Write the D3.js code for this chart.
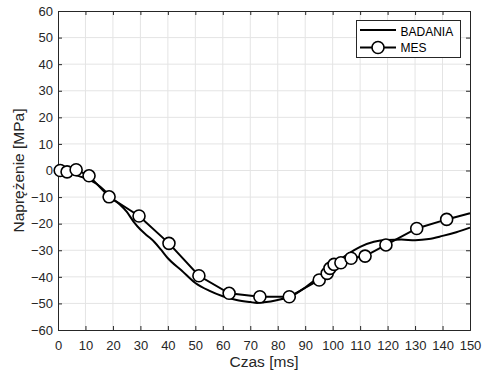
<!DOCTYPE html>
<html><head><meta charset="utf-8">
<script src="https://cdn.jsdelivr.net/npm/d3@7"></script>
<style>body{margin:0;background:#fff}svg{display:block}</style>
</head><body>
<svg id="c" width="487" height="373"></svg>
<script>
const xTicks = [0,10,20,30,40,50,60,70,80,90,100,110,120,130,140,150];
const yTicks = [-60,-50,-40,-30,-20,-10,0,10,20,30,40,50,60];
const badaniaT = [0.8,3,6,9,11,14,17,20,22.5,25,27.5,30,32.5,35,37.5,40,45,50,55,60,65,70,72.5,75,80,85,90,95,100,105,110,115,120,125,130,135,140,145,150];
const badaniaV = [0,-0.6,-1.6,-2.6,-3.3,-5,-7.6,-10.8,-12.8,-15.5,-19.2,-22.2,-24.5,-26.8,-29.8,-33,-37.6,-42.3,-45.2,-47.3,-48.7,-49.5,-49.8,-49.6,-48.7,-47.2,-44,-40,-35.6,-31.8,-28.7,-26.8,-26.1,-26,-26.2,-25.8,-24.6,-23.2,-21.5];
const mesT = [0.8,3.3,6.6,11.3,18.6,29.5,40.4,51.3,62.3,73.5,84.2,95.1,98.0,99.0,100.5,103.0,106.7,111.8,119.4,130.6,141.5,150];
const mesV = [0,-0.5,0.3,-2,-9.9,-17.1,-27.4,-39.6,-46.2,-47.5,-47.5,-41.2,-38.7,-36.8,-35.3,-34.7,-33.0,-32.2,-28.0,-21.8,-18.4,-16.1];
const mesMarkerCount = 21;

const svg = d3.select("#c");
const L=58, R=470, T=11, B=330;
const x = d3.scaleLinear().domain([0,150]).range([L,R]);
const y = d3.scaleLinear().domain([-60,60]).range([B,T]);
const font = "'Liberation Sans', Arial, sans-serif";

// grid
svg.append("g").selectAll("line").data(xTicks.slice(1,-1)).join("line")
  .attr("x1",d=>x(d)).attr("x2",d=>x(d)).attr("y1",T).attr("y2",B)
  .attr("stroke","#e4e4e4").attr("stroke-width",1);
svg.append("g").selectAll("line").data(yTicks.slice(1,-1)).join("line")
  .attr("y1",d=>y(d)).attr("y2",d=>y(d)).attr("x1",L).attr("x2",R)
  .attr("stroke","#e4e4e4").attr("stroke-width",1);

// axes
const ax = svg.append("g").attr("transform",`translate(0,${B})`)
  .call(d3.axisBottom(x).tickValues(xTicks).tickSize(-4).tickPadding(10.5).tickFormat(d3.format("d")));
const axT = svg.append("g").attr("transform",`translate(0,${T})`)
  .call(d3.axisTop(x).tickValues(xTicks).tickSize(-4).tickFormat(""));
const ay = svg.append("g").attr("transform",`translate(${L},0)`)
  .call(d3.axisLeft(y).tickValues(yTicks).tickSize(-4).tickPadding(5).tickFormat(d3.format("d")));
const ayR = svg.append("g").attr("transform",`translate(${R},0)`)
  .call(d3.axisRight(y).tickValues(yTicks).tickSize(-4).tickFormat(""));
[ax,axT,ay,ayR].forEach(g=>{
  g.select(".domain").attr("stroke","#262626").attr("stroke-width",1);
  g.selectAll(".tick line").attr("stroke","#262626");
  g.selectAll("text").attr("fill","#262626").style("font-family",font).style("font-size","13px");
});

// lines
const line = d3.line().x(d=>x(d[0])).y(d=>y(d[1])).curve(d3.curveMonotoneX);
const bad = badaniaT.map((t,i)=>[t,badaniaV[i]]);
const mes = mesT.map((t,i)=>[t,mesV[i]]);
svg.append("path").attr("d",line(bad)).attr("fill","none").attr("stroke","#000").attr("stroke-width",2);
svg.append("path").attr("d",d3.line().x(d=>x(d[0])).y(d=>y(d[1]))(mes)).attr("fill","none").attr("stroke","#000").attr("stroke-width",2);
svg.append("g").selectAll("circle").data(mes.slice(0,mesMarkerCount)).join("circle")
  .attr("cx",d=>x(d[0])).attr("cy",d=>y(d[1])).attr("r",6)
  .attr("fill","#fff").attr("stroke","#000").attr("stroke-width",1.6);

// labels
svg.append("text").attr("x",(L+R)/2).attr("y",367).attr("text-anchor","middle")
  .style("font-family",font).style("font-size","15.5px").attr("fill","#262626").text("Czas [ms]");
svg.append("text").attr("transform",`translate(24,${(T+B)/2}) rotate(-90)`).attr("text-anchor","middle")
  .style("font-family",font).style("font-size","15.5px").attr("fill","#262626").text("Naprężenie [MPa]");

// legend
const lg = svg.append("g");
lg.append("rect").attr("x",356.5).attr("y",20.5).attr("width",104).attr("height",37)
  .attr("fill","#fff").attr("stroke","#262626").attr("stroke-width",1);
lg.append("line").attr("x1",360).attr("x2",396).attr("y1",30).attr("y2",30).attr("stroke","#000").attr("stroke-width",2);
lg.append("line").attr("x1",360).attr("x2",396).attr("y1",47.5).attr("y2",47.5).attr("stroke","#000").attr("stroke-width",2);
lg.append("circle").attr("cx",378).attr("cy",47.5).attr("r",6).attr("fill","#fff").attr("stroke","#000").attr("stroke-width",1.6);
lg.append("text").attr("x",400.5).attr("y",35.5).style("font-family",font).style("font-size","12px").attr("fill","#000").text("BADANIA");
lg.append("text").attr("x",400.5).attr("y",52).style("font-family",font).style("font-size","12px").attr("fill","#000").text("MES");
</script>
</body></html>
